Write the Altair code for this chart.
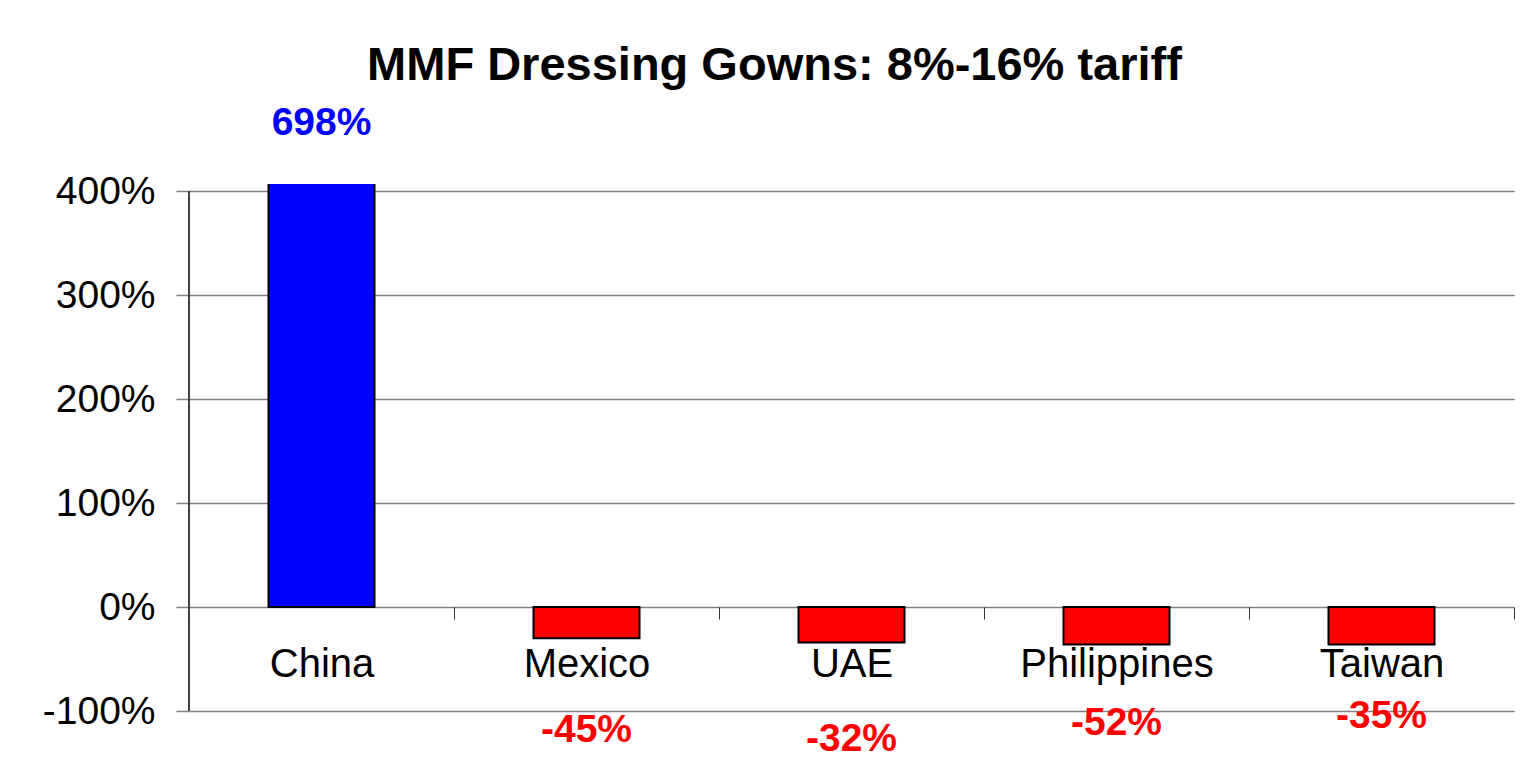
import altair as alt
import pandas as pd

countries = ["China", "Mexico", "UAE", "Philippines", "Taiwan"]
bar_values = [698, -30, -34, -36, -36]
label_texts = ["698%", "-45%", "-32%", "-52%", "-35%"]
label_anchor = [466, -118, -127, -112, -105]
y_ticks = [-100, 0, 100, 200, 300, 400]

df = pd.DataFrame({
    "country": countries,
    "value": bar_values,
    "label": label_texts,
    "anchor": label_anchor,
})

FONT = "Liberation Sans"

x_enc = alt.X(
    "country:N",
    sort=countries,
    scale=alt.Scale(paddingInner=0, paddingOuter=0),
    axis=alt.Axis(
        title=None,
        orient="bottom",
        offset=-104,
        domain=False,
        tickBand="extent",
        ticks=True,
        tickColor="#333333",
        tickSize=12,
        tickWidth=1,
        labelFont=FONT,
        labelFontSize=40,
        labelColor="black",
        labelPadding=25,
        labelAngle=0,
        labelLimit=0,
        grid=False,
    ),
)

y_scale = alt.Scale(domain=[-100, 407], nice=False, zero=False)

bars = alt.Chart(df).mark_bar(
    width=alt.RelativeBandSize(0.4), stroke="black", strokeWidth=2, clip=True
).encode(
    x=x_enc,
    y=alt.Y(
        "value:Q",
        scale=y_scale,
        axis=alt.Axis(
            title=None,
            values=y_ticks,
            format="d",
            labelExpr="datum.value + '%'",
            domain=False,
            grid=True,
            gridColor="#808080",
            gridWidth=1.5,
            tickColor="#808080",
            tickSize=13,
            tickWidth=1.5,
            labelFont=FONT,
            labelFontSize=39,
            labelColor="black",
            labelPadding=21,
        ),
    ),
    y2=alt.datum(0),
    color=alt.condition(alt.datum.value > 0, alt.value("#0000FF"), alt.value("#FF0000")),
)

labels = alt.Chart(df).mark_text(
    font=FONT, fontSize=39, fontWeight="bold", baseline="middle", align="center"
).encode(
    x=alt.X("country:N", sort=countries),
    y=alt.Y("anchor:Q", scale=y_scale),
    text="label:N",
    color=alt.condition(alt.datum.value > 0, alt.value("#0000FF"), alt.value("#FF0000")),
)

yaxis_line = alt.Chart(df).mark_rule(color="#404040", strokeWidth=1.2).encode(
    x=alt.value(0),
    y=alt.datum(400),
    y2=alt.datum(-100),
)

chart = alt.layer(bars, yaxis_line, labels).properties(
    width=1325,
    height=527,
    background="white",
    title=alt.TitleParams(
        "MMF Dressing Gowns: 8%-16% tariff",
        font=FONT,
        fontSize=47,
        fontWeight="bold",
        color="black",
        anchor="middle",
        frame="group",
        baseline="alphabetic",
        offset=25,
        dx=-77,
        dy=48,
    ),
    autosize=alt.AutoSizeParams(type="none"),
    padding={"left": 181, "top": 176, "right": 2, "bottom": 50},
).configure_view(stroke=None)

chart.save("out.html", embed_options={"renderer": "svg", "actions": False})
